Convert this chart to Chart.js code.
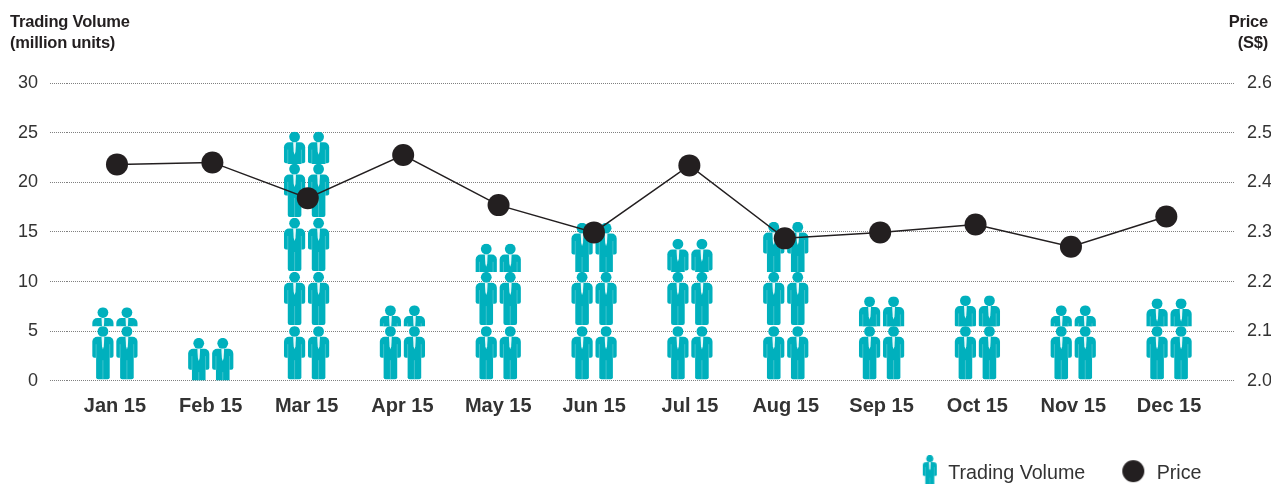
<!DOCTYPE html>
<html>
<head>
<meta charset="utf-8">
<title>Trading Volume and Price</title>
<style>
  html, body { margin: 0; padding: 0; background: #fff; overflow: hidden; }
  canvas { display: block; }
</style>
<script src="https://cdn.jsdelivr.net/npm/chart.js@4"></script>
</head>
<body>
<canvas id="volumeChart" width="1271" height="484"></canvas>
<script>
const months = ["Jan 15", "Feb 15", "Mar 15", "Apr 15", "May 15", "Jun 15", "Jul 15", "Aug 15", "Sep 15", "Oct 15", "Nov 15", "Dec 15"];
const volumes = [7.4, 4.3, 25.1, 7.6, 13.8, 15.9, 14.3, 16.0, 8.5, 8.6, 7.6, 8.3];
const prices = [2.436, 2.44, 2.368, 2.455, 2.354, 2.299, 2.434, 2.287, 2.299, 2.315, 2.27, 2.331];

const TEAL = "#00b0bd";
const PALE = "#7fd6dc";
const INK = "#231f20";
const TEXT = "#333333";
const GRID = "#808080";
const FONT = "'Liberation Sans', Arial, sans-serif";

// one person is 53 units tall with origin at top centre of the head
function drawPerson(ctx, cx, top, k) {
  ctx.save();
  ctx.translate(cx, top);
  ctx.scale(k, k);
  ctx.fillStyle = TEAL;
  ctx.beginPath();
  ctx.arc(0, 5.2, 5.4, 0, Math.PI * 2);
  ctx.fill();
  ctx.beginPath();
  ctx.roundRect(-10.6, 10.6, 21.2, 21, [5, 5, 2, 2]);
  ctx.fill();
  ctx.beginPath();
  ctx.roundRect(-6.8, 20, 13.6, 33, [0, 0, 2, 2]);
  ctx.fill();
  ctx.strokeStyle = PALE;
  ctx.lineWidth = 0.5;
  ctx.beginPath();
  ctx.moveTo(-6.8, 18); ctx.lineTo(-6.8, 32);
  ctx.moveTo(6.8, 18); ctx.lineTo(6.8, 32);
  ctx.moveTo(0, 34); ctx.lineTo(0, 53);
  ctx.stroke();
  ctx.fillStyle = "#e8f8f9";
  ctx.beginPath();
  ctx.moveTo(-1.4, 10.6); ctx.lineTo(1.4, 10.6); ctx.lineTo(0.9, 20); ctx.lineTo(0, 23); ctx.lineTo(-0.9, 20);
  ctx.closePath();
  ctx.fill();
  ctx.restore();
}

const personUnits = 5.45;
const personGap = 12;

// stacks people up each bar; the top person keeps its head and is cut off below
const personStacks = {
  id: "personStacks",
  beforeDatasetsDraw(chart) {
    const { ctx } = chart;
    const y = chart.scales.y;
    const step = y.getPixelForValue(0) - y.getPixelForValue(personUnits);
    chart.getDatasetMeta(0).data.forEach((bar) => {
      [-personGap, personGap].forEach((dx) => {
        let bottom = bar.base;
        while (bottom - bar.y > 0.5) {
          const h = Math.min(step, bottom - bar.y);
          ctx.save();
          ctx.beginPath();
          ctx.rect(bar.x + dx - 14, bottom - h, 28, h);
          ctx.clip();
          drawPerson(ctx, bar.x + dx, bottom - h, 1);
          ctx.restore();
          bottom -= step;
        }
      });
    });
  }
};

const axisHeadings = {
  id: "axisHeadings",
  afterDraw(chart) {
    const { ctx } = chart;
    ctx.save();
    ctx.fillStyle = INK;
    ctx.font = "bold 16.5px " + FONT;
    ctx.letterSpacing = "-0.2px";
    ctx.textBaseline = "alphabetic";
    ctx.textAlign = "left";
    ctx.fillText("Trading Volume", 10, 27);
    ctx.fillText("(million units)", 10, 48);
    ctx.textAlign = "right";
    ctx.fillText("Price", 1268, 27);
    ctx.fillText("(S$)", 1268, 48);
    ctx.restore();
  }
};

const legendShift = {
  id: "legendShift",
  afterLayout(chart) {
    chart.legend.right = chart.width - 35;
    chart.legend.top += 9;
  }
};

const personIcon = document.createElement("canvas");
personIcon.width = 26;
personIcon.height = 36;
drawPerson(personIcon.getContext("2d"), 18, 0, 0.66);

const priceIcon = document.createElement("canvas");
priceIcon.width = 24;
priceIcon.height = 28;
const priceIconCtx = priceIcon.getContext("2d");
priceIconCtx.fillStyle = INK;
priceIconCtx.arc(12, 12, 11, 0, Math.PI * 2);
priceIconCtx.fill();

const legendIcons = [personIcon, priceIcon];

new Chart(document.getElementById("volumeChart"), {
  data: {
    labels: months,
    datasets: [
      {
        type: "bar",
        label: "Trading Volume",
        data: volumes,
        yAxisID: "y",
        backgroundColor: "transparent",
        borderWidth: 0,
        grouped: false,
        barPercentage: 0.5,
        categoryPercentage: 1
      },
      {
        type: "line",
        label: "Price",
        data: prices.map((p, i) => ({ x: i, y: p })),
        xAxisID: "x2",
        yAxisID: "y1",
        borderColor: INK,
        borderWidth: 1.5,
        backgroundColor: INK,
        pointBackgroundColor: INK,
        pointBorderWidth: 0,
        pointRadius: 11,
        pointStyle: "circle",
        tension: 0
      }
    ]
  },
  options: {
    responsive: false,
    animation: false,
    layout: { padding: { top: 83, bottom: 0 } },
    plugins: {
      title: { display: false },
      tooltip: { enabled: false },
      legend: {
        position: "bottom",
        align: "end",
        labels: {
          usePointStyle: true,
          pointStyleWidth: 27,
          padding: 34.5,
          color: TEXT,
          font: { family: FONT, size: 19.7 },
          generateLabels(chart) {
            return chart.data.datasets.map((ds, i) => ({
              text: ds.label,
              datasetIndex: i,
              fontColor: TEXT,
              lineWidth: 0,
              pointStyle: legendIcons[i]
            }));
          }
        }
      }
    },
    scales: {
      x: {
        offset: true,
        grid: { display: false, drawTicks: false },
        border: { display: false },
        afterFit(scale) { scale.height = 39; },
        ticks: {
          autoSkip: false,
          maxRotation: 0,
          padding: 14,
          color: TEXT,
          font: { family: FONT, size: 20, weight: "bold" }
        }
      },
      // the price points run on a slightly narrower spacing than the figures
      x2: {
        type: "linear",
        display: false,
        min: -0.524,
        max: 11.531
      },
      y: {
        position: "left",
        min: 0,
        max: 30,
        afterFit(scale) { scale.width = 67; },
        border: { display: false, dash: [1, 1] },
        grid: {
          color: GRID,
          lineWidth: 1,
          tickLength: 17,
          tickColor: GRID,
          tickBorderDash: [1, 1]
        },
        ticks: {
          stepSize: 5,
          padding: 12,
          color: TEXT,
          font: { family: FONT, size: 18 }
        }
      },
      y1: {
        position: "right",
        min: 2,
        max: 2.6,
        afterFit(scale) { scale.width = 54; },
        border: { display: false },
        grid: {
          drawOnChartArea: false,
          tickLength: 18,
          tickColor: GRID,
          tickBorderDash: [1, 1]
        },
        ticks: {
          stepSize: 0.1,
          padding: 12,
          color: TEXT,
          font: { family: FONT, size: 18 },
          callback: (v) => v.toFixed(1)
        }
      }
    }
  },
  plugins: [personStacks, axisHeadings, legendShift]
});
</script>
</body>
</html>
